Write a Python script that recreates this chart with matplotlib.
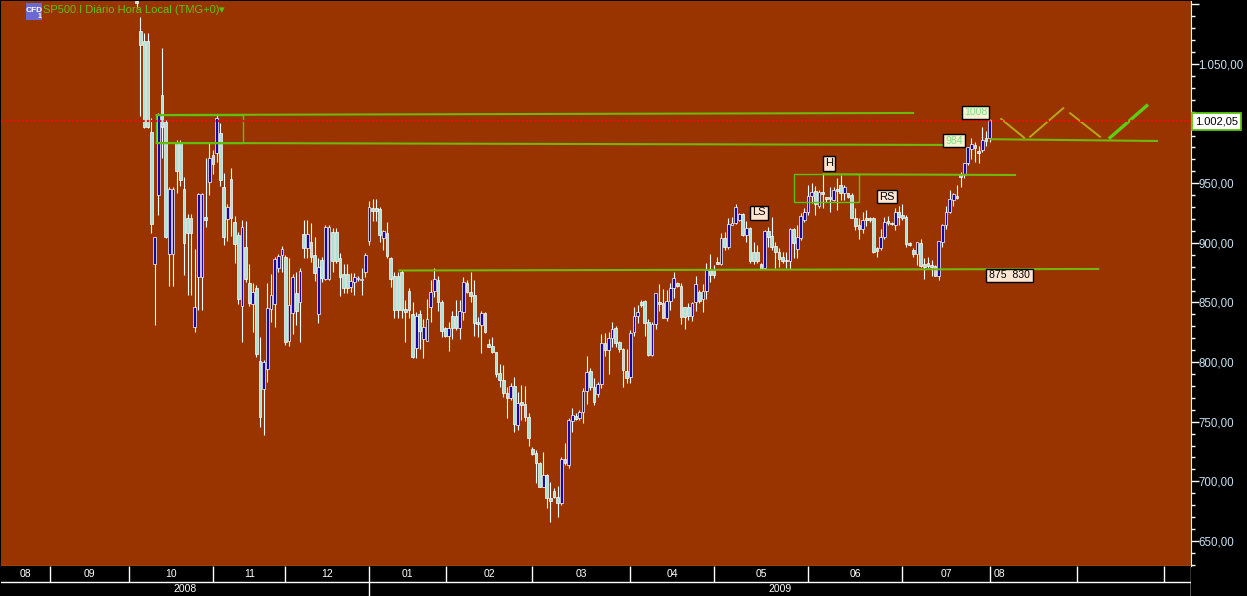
#!/usr/bin/python
import matplotlib
matplotlib.use("Agg")
import matplotlib.pyplot as plt
from matplotlib.patches import Rectangle
from matplotlib.ticker import FuncFormatter, MultipleLocator

plt.rcParams['font.family'] = ['Liberation Sans', 'DejaVu Sans']

# daily candles
opens = [1102.9,1078,1069,1069,993.2,882.3,940.1,1024,1001,890.4,
         890.4,984.3,984.3,944.9,920.6,920.6,829.7,871,871,921.7,
         950.8,973.4,975,991.8,946.6,919.7,953.8,917.2,906.6,847,
         896.3,866.1,848.7,861.9,800.7,777.2,794,844.3,848.5,878.7,
         889.8,887.9,818,840.9,858.2,850.7,907.2,895.4,900.5,889.8,
         840.1,885.6,869.4,869.4,908.8,908.8,887,873.6,873.6,863.3,
         866.9,869.5,868.5,875.9,901.9,929,929,928.1,903.8,908,
         887,872.5,872.5,875.9,844.5,859.6,840.4,811.6,840.1,819.1,
         818,846.5,859.9,868.8,850.7,828.3,822.2,838.7,838.7,828.3,
         842.3,866,859,856.3,833.4,831.1,840.9,814.9,813.8,808.2,
         790.6,785,773.8,770.2,780,747.3,766.3,764.9,753.7,727.1,
         724.1,715.1,695.6,705.3,685.8,691.9,687.2,681.6,718.5,713.7,
         750.6,754.8,753.4,757.9,776,792.8,778.8,773.3,781.4,816.3,
         810.2,819.9,828.9,817.1,810.7,792.8,787.2,825,838.7,850.7,
         851.2,833.9,806,831.9,850.1,849.3,837.3,851.5,861.9,866,
         864.1,846,846,839,850.1,859.1,853.2,859.9,877.8,877.8,
         884.2,882.3,903.8,896.8,915.3,916.9,919.2,924.2,906.6,912.2,
         892.6,892.6,882.3,878.7,910.2,905.8,897.4,892.6,888.4,886,
         885,911.3,895.1,904.4,918.9,925.6,939.6,943.5,931.2,942.4,
         938.2,938.2,936,945.2,948.5,942.1,941.5,940.1,921.1,915,
         911.4,920.6,920.6,921.1,895.4,895.4,904.6,918.3,917,915,
         926.2,923.4,922,900.2,894,890.4,899.6,882,882.8,881.4,
         880.6,872.5,901,915,926.2,935.9,939.3,957.5,956.9,966.7,
         978.4,982,977,977.9,987.6,987.6]
highs = [1103.7,1089.7,1076,1076,1005,905,1009,1063,1003,947,
         947,986,986,955.5,924,924,894.6,942,942,970.9,
         984.9,977.9,1007.2,1000.8,958.9,932.6,963,922.8,908.8,918.9,
         918.6,882.3,866.1,864.7,821.4,801.8,866.6,873.9,887.9,890.7,
         897.4,889.8,887,873.9,875.9,879.2,919.2,919.2,916.4,904.6,
         887,888.4,915,915,912.2,912.2,891.2,882.3,882.3,874.5,
         875,872,878.7,891.2,935.4,936.8,936.8,929.8,910.8,917.2,
         888.4,875.9,875.9,877.2,852,861.9,850.1,842.3,843.7,835.9,
         852.7,868.8,878.6,872.2,852.1,829.7,833.9,843.1,852.1,852.1,
         871.6,868.8,875.3,868.8,838.1,842.9,842.3,819.1,820.8,808.8,
         798.4,797.6,779.4,782.2,787.2,775.2,780.8,780.2,757,729.1,
         726.3,716.5,724.3,706.2,699.7,694.2,696.1,720.7,732.4,752.9,
         761.2,757,759.8,778,805.1,794.8,786.4,783.6,823.6,824.1,
         825.5,833.4,830.3,818,811.5,810.7,826.9,845.9,847.9,852.1,
         852.1,835.9,833.9,858.2,865.5,861,860.5,866,875.8,867.4,
         866,846,849.3,850.7,872.5,860.5,865.5,883.4,890.4,881.4,
         887.9,908,908.8,920.6,921.4,932.3,925.3,924.8,918.6,913.6,
         901,898.2,882.8,910.8,913,922,901,896,892.6,892.6,
         912.2,912.2,915,924.8,929,948.5,950,948,944.3,958.3,
         938.8,947.1,947.1,954.7,956.9,948.5,942.1,941.5,929,920.6,
         926.2,927.6,922,922,896.8,911.4,922,922.8,917.8,929,
         931.2,932.3,923.4,901,895.4,901,903,887,887.9,885.6,
         881.4,901.6,915.6,931,944.3,941.5,948.5,959.7,967.2,980.7,
         987.6,984.9,981.2,997.4,994,1003.6]
lows = [1096.7,1006,996,996,908,831,923,971,904,864,
        864,942,947.7,873,856,856,825.6,844,844,913.6,
        940,957.8,968,947.7,898.2,901.8,905.8,883.4,848.7,817.2,
        867.5,847,825.6,804.6,745.3,738.9,783.6,833.9,829.7,875.9,
        875.9,814.4,813.5,823.6,831.1,817.2,887.6,887.6,884.2,868.3,
        833.1,867.5,868.9,868.9,875.9,883.4,855.7,858.2,858.2,859.1,
        856.3,868,856.3,871.7,898.2,918.6,918.6,901,894,887,
        863.3,836.7,836.7,836.7,816.6,836.7,803.2,803.2,810.7,803.2,
        818,833.9,854.9,843.1,820.8,821.3,809.6,819.1,826.9,819.1,
        835.3,857.7,850.7,821.9,821.3,807.9,824.1,812.9,807.4,787.8,
        778.8,770.5,753.4,768.2,741.7,743.1,751.5,750.9,730,722.1,
        698.9,695,695,677.4,666.2,685.8,670,680.2,713.7,710.9,
        741.7,751.5,751.5,749.2,764.9,776.6,764,771,778,805.1,
        790,813,812.4,808.8,779.4,782.8,782.8,821.9,832.5,845.9,
        821.9,805.1,805.1,827.8,842.9,836.7,834.7,843.7,853.5,862.7,
        832,827.5,835.3,834.8,843.2,849.3,842.3,852.7,867.5,870.3,
        882,881.4,894,894.6,915,915.8,918.6,905.8,901,882.8,
        882.3,882.8,877.8,877.8,896.8,894,878.7,880,882.8,878.7,
        877.8,887,887,902.4,917.8,923.4,933.2,923.4,929,929,
        934.6,926.2,935.1,927.8,936,936,938,920.6,910.8,903.2,
        908,914.4,917.8,891.8,888.4,894,903,915,915,910.8,
        915,919.2,896.8,897.4,888.4,881.4,880,869.4,878.6,872.5,
        872.2,868.9,896.2,911.3,924.8,930.9,937,947.1,954.1,965.3,
        970,968.1,967.2,976.5,981.2,984.9]
closes = [1100.9,1066,997.5,997.5,915.8,904.6,1007.2,997.5,905,944.9,
          944.9,960.3,952.7,900.2,908.6,908.6,846.5,940.7,940.7,919.5,
          970.9,966.1,1004.4,952.7,905.2,929.8,920.6,898.8,852.9,913.3,
          869.7,849.9,858.5,806.8,753.7,799.8,845.1,856,886.2,889.3,
          894.6,817.2,847.9,871.1,843.2,876.4,895.4,907.2,888.4,874.5,
          879.5,870.3,913.3,913.3,885,885,871.7,862.4,862.4,868,
          871.7,870.5,870,889.8,929.8,927,927,906.6,910.2,889,
          869.4,843.7,843.7,843.7,841.8,843.7,804.6,839,826.4,829.7,
          835.9,859.1,869.4,850.7,826.1,822.2,828.3,828.3,828.3,842.9,
          867.4,858.5,855.7,832.5,831.7,840.9,825,813,808.2,790,
          785,773.8,770.2,780,747.8,765.4,764,753.7,736.1,722.9,
          715.1,695.6,705.3,685.8,683.8,687.2,682.1,718.5,715.1,751.5,
          755.6,752,757.9,776,791.4,778.8,766.3,781.4,816.3,810.2,
          819.9,827.8,815.7,810.7,793.4,786.9,824.7,838.9,842.3,847.9,
          833.1,806,831.9,857.7,848.7,837.3,851.5,861.9,870.2,864.1,
          838.1,838.1,838.7,849.3,865.2,851.5,859.9,877.3,872.8,872.8,
          882.3,903.8,896.8,915.8,916.9,929.8,924,906.6,912.2,885.1,
          884.8,884.8,878.4,910.2,905.2,896.8,892.6,886.2,885.1,884.5,
          911.6,899.6,904.6,922.5,926.2,939.6,942.9,932.3,942.9,940.7,
          936.8,936.8,944.3,943.5,941.5,946.6,938.7,921.1,914.4,911.6,
          919.2,918.9,918.9,892.6,893.5,904.6,917.2,916.4,915.5,925.6,
          922,921.1,898.8,898.2,890.4,900.5,880.6,880,880.6,879.5,
          872.5,901.6,915,926.2,936.5,941,937.3,955.5,966.7,980.1,
          982.9,979.8,975,986.2,985.4,1003]

# drawn trend lines: candle number and price of both ends
line_x = [(5.2, 214.2), (5.2, 222.7), (189, 242.3), (72.1, 265.2), (235.1, 281.4)]
line_y = [(1007.2, 1008.9), (983.8, 982.1), (957.5, 956.9), (876.8, 878.1), (986.9, 985.4)]
zig_x = [(238.2, 244.5), (246.2, 255.3), (257.2, 265.4)]
zig_y = [(1003.9, 988.2), (989, 1012.9), (1008.7, 989)]
last_x = (268.2, 278.3)
last_y = (988.2, 1015)
box_x = [(5.2, 29.4), (181.2, 199.1)]
box_y = [(983.6, 1007.6), (934.6, 957.5)]
last_price = 1002.05

# time scale
month_edges = [-37.5, -24, -2, 21, 41, 64, 85.2, 109, 136, 159, 185, 211, 235, 259, 283, 290.5]
month_labels = ['08', '09', '10', '11', '12', '01', '02', '03', '04', '05', '06', '07', '08']
year_edges = [-37.5, 64, 290.5]
year_labels = ['2008', '2009']

BROWN = '#993300'
GREEN = '#58c40e'
LINE = '#72b70d'
OLIVE = '#b8a818'
TXT = '#c8e0f0'
NARROW = ['Liberation Sans Narrow', 'Liberation Sans', 'DejaVu Sans']

W, H = 1247, 596
fig = plt.figure(figsize=(W / 100, H / 100), dpi=100, facecolor='black')
ax = fig.add_axes([0.6 / W, 30 / H, 1190.4 / W, 565 / H], facecolor=BROWN)
axt = fig.add_axes([0.6 / W, 0, 1190.4 / W, 30 / H], facecolor='black', sharex=ax)

xs = list(range(len(opens)))
ax.vlines(xs, lows, highs, color='white', lw=0.8, zorder=2)
tops = [max(o, c) for o, c in zip(opens, closes)]
bots = [min(o, c) for o, c in zip(opens, closes)]
cols = ['#1408a8' if c >= o else '#a6e4dc' for o, c in zip(opens, closes)]
ax.bar(xs, [t - b for t, b in zip(tops, bots)], bottom=bots, width=0.75, color=cols,
       edgecolor='white', linewidth=0.5, zorder=3)

for x, y in zip(line_x, line_y):
    ax.plot(x, y, color=LINE, lw=1.5, zorder=4, solid_capstyle='butt')
for x, y in zip(box_x, box_y):
    ax.add_patch(Rectangle((x[0], y[0]), x[1] - x[0], y[1] - y[0], fill=False,
                           edgecolor=GREEN, lw=1.0, zorder=4))
for x, y in zip(zig_x, zig_y):
    ax.plot(x, y, color=OLIVE, lw=1.4, zorder=4)
ax.plot(last_x, last_y, color='#5ccf10', lw=2.4, zorder=4)
ax.axhline(last_price, color='#e8100c', lw=1.5, dashes=(1, 1), zorder=5)

ax.set_xlim(-37.5, 290.5)
ax.set_ylim(629, 1102.8)
ax.set_xticks([])
ax.yaxis.tick_right()
ax.yaxis.set_major_locator(MultipleLocator(50))
ax.yaxis.set_minor_locator(MultipleLocator(10))


def price_fmt(v, p):
    # the flag covers 1.000 and nothing is printed above 1.050
    if v > 1050 or v == 1000:
        return ''
    return f'{v:,.2f}'.replace(',', 'X').replace('.', ',').replace('X', '.')


ax.yaxis.set_major_formatter(FuncFormatter(price_fmt))
ax.tick_params(axis='y', which='major', colors='white', length=5.5, width=1, pad=0,
               labelcolor=TXT, labelsize=8.3)
ax.tick_params(axis='y', which='minor', colors='white', length=3, width=1)
for s in ['top', 'left']:
    ax.spines[s].set_visible(False)
ax.spines['right'].set_color('white')
ax.spines['bottom'].set_color('white')

# months and years below the chart
split = 0.93
axt.set_ylim(0, 2)
axt.set_yticks([])
axt.tick_params(axis='x', length=0, labelbottom=False)
for s in axt.spines.values():
    s.set_visible(False)
axt.axhline(split, color='white', lw=1)
axt.vlines(month_edges[1:-1], split, 2, color='white', lw=1)
axt.vlines(year_edges[1:], 0, split, color='white', lw=1)
axt.vlines(month_edges[-1], 0, 2, color='white', lw=1)
for i, lab in enumerate(month_labels):
    if i < len(month_labels) - 1:
        axt.text((month_edges[i] + month_edges[i + 1]) / 2, 1.47, lab, color='white', fontsize=7.5,
                 family=NARROW, ha='center', va='center')
    else:
        axt.text(month_edges[i] + 1, 1.47, lab, color='white', fontsize=7.5,
                 family=NARROW, ha='left', va='center')
for i, lab in enumerate(year_labels):
    axt.text((year_edges[i] + year_edges[i + 1]) / 2, 0.45, lab, color='white', fontsize=7.5,
             family=NARROW, ha='center', va='center')


def label(x0, y0, x1, y1, txt, col='black', bg='#fde6d2', ec='black', size=8, lw=1.0):
    fig.patches.append(Rectangle((x0 / W, 1 - y1 / H), (x1 - x0) / W, (y1 - y0) / H,
                                 transform=fig.transFigure, fc=bg, ec=ec, lw=lw, zorder=6))
    fig.text((x0 + x1) / 2 / W, 1 - (y0 + y1) / 2 / H, txt, color=col, fontsize=size,
             ha='center', va='center', zorder=7)


label(750, 205.5, 768, 219.5, 'LS')
label(823, 156, 835, 171, 'H')
label(877, 190.5, 897, 203.5, 'RS')
label(986, 269, 1033, 281.5, '875  830', size=7.6)
label(962, 105.5, 989, 118.5, '1008', col='#7fe07f', bg='#f6f2d4', size=7.6)
label(943, 134, 965, 147, '984', col='#7fe07f', bg='#f6f2d4', size=7.6)

# price flag on the axis
label(1192, 113, 1241, 130, '1.002,05', bg='white', ec=GREEN, size=8, lw=1.3)

# chart header
fig.patches.append(Rectangle((26 / W, 1 - 20 / H), 16 / W, 17 / H, transform=fig.transFigure,
                             fc='#6a6ad0', ec='none'))
fig.text(34 / W, 1 - 10 / H, 'CFD', color='white', fontsize=6, weight='bold', ha='center', va='center')
fig.text(40 / W, 1 - 17 / H, '1', color='white', fontsize=5, weight='bold', ha='center', va='center')
fig.text(43 / W, 1 - 10 / H, 'SP500.I Diário Hora Local (TMG+0)', color=GREEN, fontsize=8,
         ha='left', va='center')
fig.text(222 / W, 1 - 10 / H, '▾', color=GREEN, fontsize=8, ha='center', va='center')

fig.savefig('out.png', dpi=100, facecolor='black')
